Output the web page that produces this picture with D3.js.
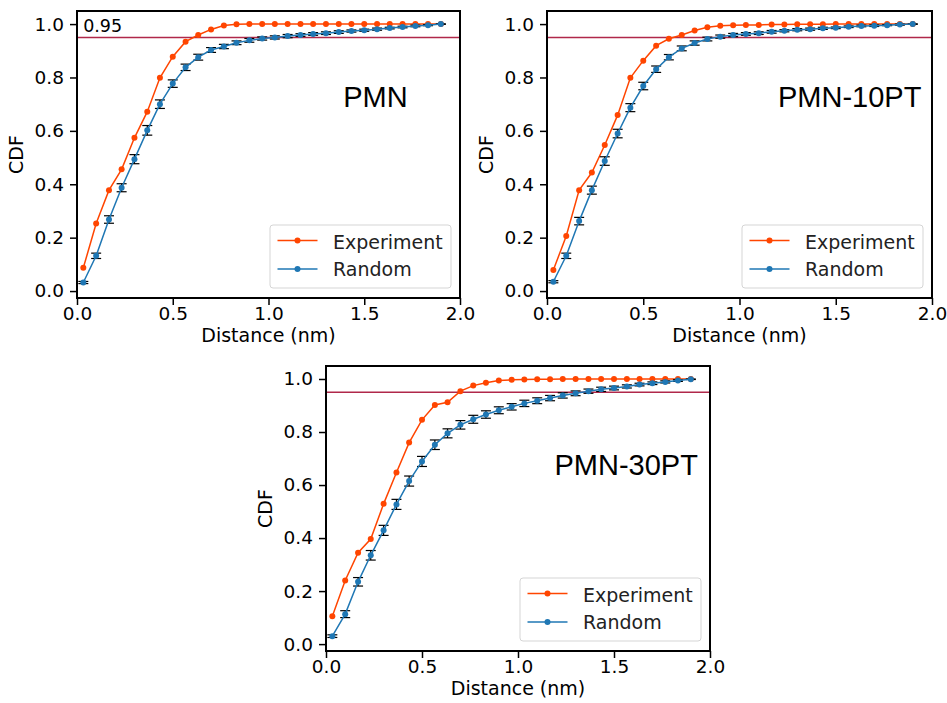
<!DOCTYPE html>
<html>
<head>
<meta charset="utf-8">
<script src="https://cdn.jsdelivr.net/npm/d3@7"></script>
<style>
  html, body { margin: 0; padding: 0; background: #fff; }
  svg { display: block; }
</style>
</head>
<body>
<svg id="chart" width="947" height="703"></svg>
<script>
// ---- Data ----
const distances = [0.033,0.1,0.167,0.233,0.3,0.367,0.433,0.5,0.567,0.633,0.7,0.767,0.833,0.9,0.967,1.033,1.1,1.167,1.233,1.3,1.367,1.433,1.5,1.567,1.633,1.7,1.767,1.833,1.9];
const xTicks = [0.0, 0.5, 1.0, 1.5, 2.0];
const yTicks = [0.0, 0.2, 0.4, 0.6, 0.8, 1.0];
const threshold = 0.95;
const panelNames = ["PMN", "PMN-10PT", "PMN-30PT"];
const seriesNames = ["Experiment", "Random"];

const pmnExp = [0.087,0.253,0.378,0.456,0.574,0.672,0.799,0.878,0.934,0.959,0.980,0.995,0.999,1,1,1,1,1,1,1,1,1,1,1,1,1,1,1,1];
const pmnRand = [0.032,0.132,0.268,0.387,0.494,0.602,0.700,0.777,0.838,0.876,0.903,0.916,0.930,0.939,0.946,0.950,0.955,0.959,0.963,0.966,0.970,0.974,0.977,0.981,0.985,0.989,0.993,0.996,1.0];
const pmnRandErr = [0.004,0.010,0.014,0.015,0.017,0.018,0.016,0.014,0.012,0.011,0.009,0.008,0.007,0.007,0.006,0.006,0.006,0.005,0.005,0.005,0.005,0.004,0.004,0.004,0.003,0.003,0.003,0.002,0.001];

const pmn10Exp = [0.079,0.206,0.378,0.444,0.547,0.659,0.799,0.863,0.919,0.945,0.959,0.976,0.988,0.994,0.996,0.997,0.997,0.998,0.998,0.999,0.999,0.999,1,1,1,1,1,1,1];
const pmn10Rand = [0.035,0.132,0.262,0.378,0.487,0.590,0.687,0.768,0.831,0.876,0.909,0.929,0.944,0.953,0.959,0.963,0.966,0.971,0.975,0.979,0.981,0.984,0.986,0.990,0.993,0.994,0.996,0.998,1.0];
const pmn10RandErr = [0.004,0.010,0.014,0.015,0.016,0.016,0.015,0.014,0.012,0.010,0.009,0.008,0.007,0.006,0.006,0.005,0.005,0.005,0.004,0.004,0.004,0.004,0.003,0.003,0.003,0.003,0.002,0.002,0.001];

const pmn30Exp = [0.105,0.240,0.345,0.396,0.529,0.647,0.760,0.846,0.902,0.912,0.954,0.975,0.986,0.994,0.997,0.998,0.999,0.999,1,1,1,1,1,1,1,1,1,1,1];
const pmn30Rand = [0.030,0.113,0.235,0.335,0.429,0.527,0.615,0.689,0.752,0.795,0.827,0.848,0.866,0.882,0.895,0.908,0.918,0.928,0.938,0.946,0.954,0.961,0.966,0.972,0.979,0.984,0.989,0.994,0.999];
const pmn30RandErr = [0.005,0.013,0.016,0.018,0.019,0.019,0.019,0.019,0.018,0.017,0.016,0.015,0.014,0.013,0.012,0.012,0.011,0.010,0.010,0.009,0.008,0.008,0.007,0.006,0.005,0.005,0.004,0.003,0.001];

// ---- Layout / style ----
const panels = [
  { name: panelNames[0], exp: pmnExp, rand: pmnRand, err: pmnRandErr, box: {l: 77, r: 460, t: 11, b: 298}, label: [1.39, 0.688], showThr: true },
  { name: panelNames[1], exp: pmn10Exp, rand: pmn10Rand, err: pmn10RandErr, box: {l: 547, r: 932, t: 11, b: 298}, label: [1.20, 0.69], showThr: false },
  { name: panelNames[2], exp: pmn30Exp, rand: pmn30Rand, err: pmn30RandErr, box: {l: 326, r: 710, t: 366, b: 651}, label: [1.19, 0.639], showThr: false }
];
const expColor = "#ff4500";
const randColor = "#1f77b4";
const thrColor = "#b0284a";
const baseFont = "DejaVu Sans, sans-serif";
const titleFont = "Liberation Sans, Arial, sans-serif";

const svg = d3.select("#chart");

panels.forEach(p => {
  const {l, r, t, b} = p.box;
  const x = d3.scaleLinear().domain([0, 2]).range([l, r]);
  const y = d3.scaleLinear().domain([-0.026, 1.049]).range([b, t]);
  const g = svg.append("g");

  // threshold line
  g.append("line")
    .attr("x1", x(0)).attr("x2", x(2))
    .attr("y1", y(threshold)).attr("y2", y(threshold))
    .attr("stroke", thrColor).attr("stroke-width", 1.5);

  // experiment line
  const line = d3.line().x((d, i) => x(distances[i])).y(d => y(d));
  g.append("path").datum(p.exp)
    .attr("d", line).attr("fill", "none")
    .attr("stroke", expColor).attr("stroke-width", 1.5);
  g.selectAll(".expPt").data(p.exp).enter().append("circle")
    .attr("cx", (d, i) => x(distances[i])).attr("cy", d => y(d))
    .attr("r", 3).attr("fill", expColor);

  // random error bars
  const eb = g.append("g").attr("stroke", "#000").attr("stroke-width", 1.2);
  p.rand.forEach((v, i) => {
    const cx = x(distances[i]);
    const y1 = y(v - p.err[i]), y2 = y(v + p.err[i]);
    eb.append("line").attr("x1", cx).attr("x2", cx).attr("y1", y1).attr("y2", y2);
    eb.append("line").attr("x1", cx - 5).attr("x2", cx + 5).attr("y1", y1).attr("y2", y1);
    eb.append("line").attr("x1", cx - 5).attr("x2", cx + 5).attr("y1", y2).attr("y2", y2);
  });

  // random line
  g.append("path").datum(p.rand)
    .attr("d", line).attr("fill", "none")
    .attr("stroke", randColor).attr("stroke-width", 1.5);
  g.selectAll(".randPt").data(p.rand).enter().append("circle")
    .attr("cx", (d, i) => x(distances[i])).attr("cy", d => y(d))
    .attr("r", 3).attr("fill", randColor);

  // frame
  g.append("rect")
    .attr("x", l).attr("y", t).attr("width", r - l).attr("height", b - t)
    .attr("fill", "none").attr("stroke", "#000").attr("stroke-width", 2);

  // axes
  const xa = g.append("g").attr("transform", `translate(0,${b})`)
    .call(d3.axisBottom(x).tickValues(xTicks).tickFormat(d3.format(".1f")).tickSize(7).tickPadding(2).tickSizeOuter(0));
  const ya = g.append("g").attr("transform", `translate(${l},0)`)
    .call(d3.axisLeft(y).tickValues(yTicks).tickFormat(d3.format(".1f")).tickSize(7).tickPadding(6).tickSizeOuter(0));
  [xa, ya].forEach(a => {
    a.select(".domain").remove();
    a.selectAll(".tick line").attr("stroke", "#000").attr("stroke-width", 1.5);
    a.selectAll(".tick text").attr("fill", "#000").style("font-family", baseFont).style("font-size", "18.5px");
  });

  // axis labels
  g.append("text")
    .attr("x", (l + r) / 2).attr("y", b + 44)
    .attr("text-anchor", "middle")
    .style("font-family", baseFont).style("font-size", "19px")
    .text("Distance (nm)");
  g.append("text")
    .attr("transform", `translate(${l - 54},${(t + b) / 2}) rotate(-90)`)
    .attr("text-anchor", "middle")
    .style("font-family", baseFont).style("font-size", "19px")
    .text("CDF");

  // panel title
  g.append("text")
    .attr("x", x(p.label[0])).attr("y", y(p.label[1]))
    .style("font-family", titleFont).style("font-size", "29px")
    .text(p.name);

  if (p.showThr) {
    g.append("text")
      .attr("x", x(0.032)).attr("y", y(0.97))
      .style("font-family", baseFont).style("font-size", "17.5px")
      .text(String(threshold));
  }

  // legend
  const lw = 181, lh = 63;
  const lx = r - 9 - lw, ly = b - 10 - lh;
  const lg = g.append("g");
  lg.append("rect").attr("x", lx).attr("y", ly).attr("width", lw).attr("height", lh)
    .attr("rx", 3).attr("fill", "#fff").attr("fill-opacity", 0.8)
    .attr("stroke", "#d5d5d5").attr("stroke-width", 1);
  const rows = [
    { name: seriesNames[0], color: expColor, ly: 15.5, ty: 23.5 },
    { name: seriesNames[1], color: randColor, ly: 44, ty: 50.5 }
  ];
  rows.forEach(rw => {
    lg.append("line").attr("x1", lx + 7.5).attr("x2", lx + 47.5)
      .attr("y1", ly + rw.ly).attr("y2", ly + rw.ly)
      .attr("stroke", rw.color).attr("stroke-width", 1.5);
    lg.append("circle").attr("cx", lx + 27.5).attr("cy", ly + rw.ly).attr("r", 3).attr("fill", rw.color);
    lg.append("text").attr("x", lx + 63).attr("y", ly + rw.ty)
      .style("font-family", baseFont).style("font-size", "19px")
      .attr("fill", "#222")
      .text(rw.name);
  });
});
</script>
</body>
</html>
